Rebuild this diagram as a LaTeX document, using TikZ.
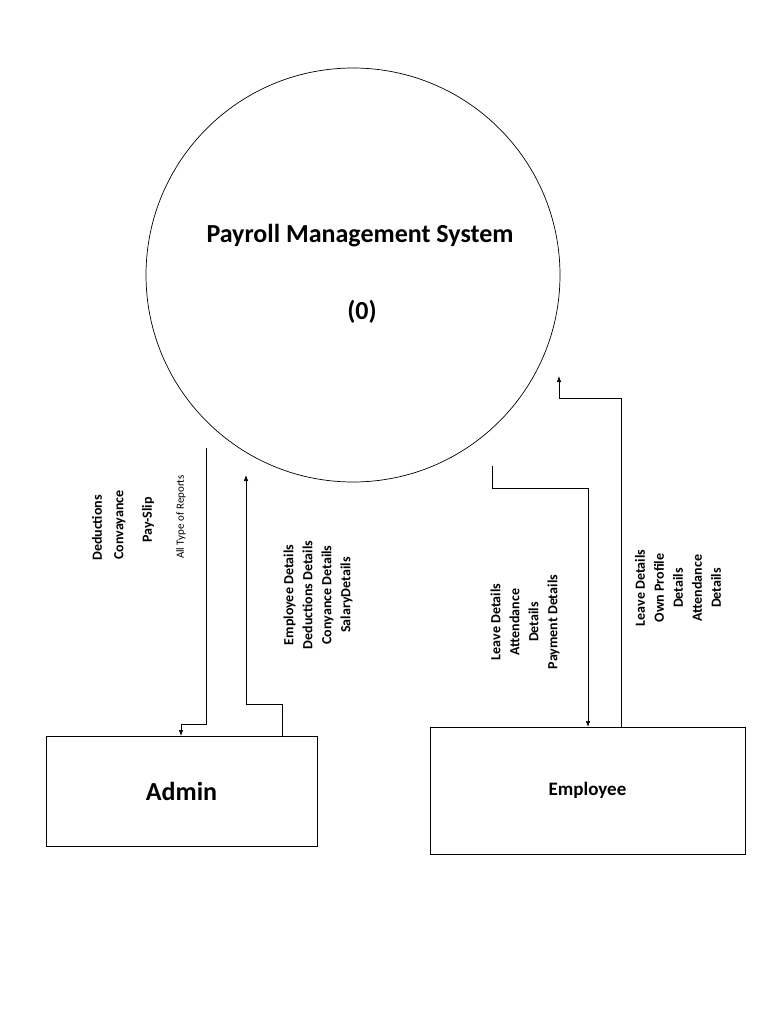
\documentclass[tikz,border=0pt]{standalone}
\usepackage{fontspec}
\setmainfont{Carlito}
\usetikzlibrary{arrows.meta}
\begin{document}
\begin{tikzpicture}[x=1pt,y=-1pt,
  lbl/.style={rotate=90,font=\bfseries\fontsize{14}{19}\selectfont,align=center,inner sep=0},
  flow/.style={line width=0.7pt,-{Latex[length=6pt,width=4.5pt]}},
  box/.style={draw,line width=0.7pt,minimum width=#1,inner sep=0}]
\useasboundingbox (0,0) rectangle (768,1024);
\node[circle,draw,line width=0.7pt,minimum size=414pt,inner sep=0] (sys) at (353,275) {};
\node[font=\bfseries\fontsize{26}{30}\selectfont] (t1) at (360,236) {Payroll Management System};
\node[font=\bfseries\fontsize{26}{30}\selectfont] (t2) at (362,312) {(0)};
\node[box=271pt,minimum height=110pt,font=\bfseries\fontsize{26}{30}\selectfont] (admin) at (181.5,791) {Admin};
\node[box=315pt,minimum height=127pt,font=\bfseries\fontsize{19}{22}\selectfont] (emp) at (587.5,790.5) {Employee};
\coordinate (a1) at (206,448);
\coordinate (a2) at (246,475);
\coordinate (e1) at (492,466);
\coordinate (e2) at (559,376);
\draw[flow] (a1) |- (181,724) -- (181,736);
\draw[flow] (282,736) |- (246,704) -- (a2);
\draw[flow] (e1) |- (588,488) -- (588,727);
\draw[flow] (621,727) |- (559,398) -- (e2);
\node[lbl] (l1) at (97,528) {Deductions};
\node[lbl] (l2) at (120,525) {Convayance};
\node[lbl] (l3) at (148,520) {Pay-Slip};
\node[lbl,font=\fontsize{11}{13}\selectfont] (l4) at (181,517) {All Type of Reports};
\node[lbl] (l5) at (318,595) {Employee Details\\Deductions Details\\Conyance Details\\SalaryDetails};
\node[lbl] (l6) at (525,622) {Leave Details\\Attendance\\Details\\Payment Details};
\node[lbl] (l7) at (678,588) {Leave Details\\Own Profile\\Details\\Attendance\\Details};
\end{tikzpicture}
\end{document}
